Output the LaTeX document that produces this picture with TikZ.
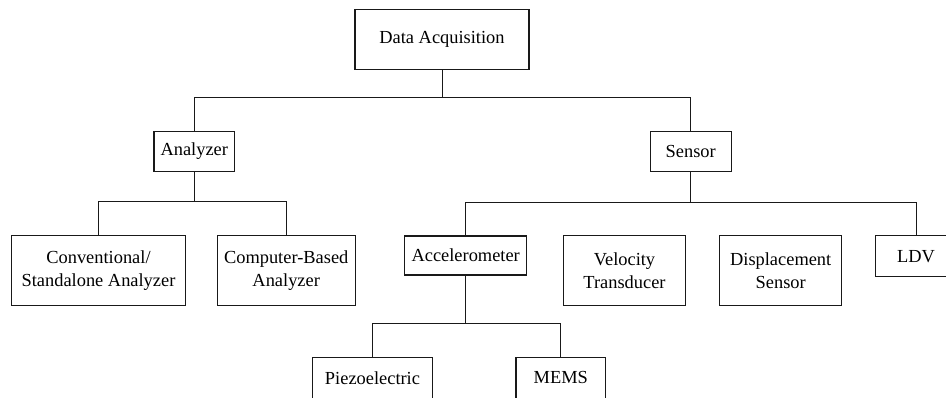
\documentclass[tikz,border=0pt]{standalone}
\usepackage{fontspec}
\setmainfont{Liberation Serif}
\usepackage{tikz}
\usetikzlibrary{calc}

\begin{document}
\begin{tikzpicture}[x=1pt,y=-1pt,
    box/.style={draw=black!90,line width=1.1pt,inner sep=0pt,align=center,
        font=\fontsize{18.4}{22.6}\selectfont},
    link/.style={draw=black!90,line width=1pt}]
\useasboundingbox (0,0) rectangle (946,398);
\clip (0,0) rectangle (946,398);

% Top level
\node[box,minimum width=174,minimum height=60] (daq) at (442,39.3) {Data Acquisition};

% Second level
\node[box,minimum width=80.7,minimum height=40.4] (ana) at (194.3,151.5) {Analyzer};
\node[box,minimum width=80.7,minimum height=40.4] (sen) at (690.7,151.5) {Sensor};

% Analyzer types
\node[box,minimum width=174.4,minimum height=69.7] (conv) at (98.5,270.8) {Conventional/\\Standalone Analyzer};
\node[box,minimum width=138.3,minimum height=69.7] (comp) at (286.2,270.8) {Computer-Based\\Analyzer};

% Sensor types
\node[box,minimum width=122,minimum height=39] (acc) at (465.7,255.5) {Accelerometer};
\node[box,minimum width=121.6,minimum height=69.7] (vel) at (624.5,270.8) {Velocity\\Transducer};
\node[box,minimum width=122,minimum height=69.7] (disp) at (780.7,270.8) {Displacement\\Sensor};
\node[box,minimum width=81,minimum height=41] (ldv) at (916,256.2) {LDV};

% Accelerometer types
\node[box,minimum width=120.4,minimum height=40.4] (piezo) at (372.5,377.9) {Piezoelectric};
\node[box,minimum width=89.7,minimum height=40.4] (mems) at (560.8,377.9) {MEMS};

% Branch points
\coordinate (jdaq) at ($(daq.south)+(0,28)$);
\coordinate (jana) at ($(ana.south)+(0,29)$);
\coordinate (jsen) at ($(sen.south)+(0,30)$);
\coordinate (jacc) at ($(acc.south)+(0,47.7)$);

% Connectors
\draw[link] (daq.south) -- (jdaq);
\draw[link] (ana.north) |- (jdaq) -| (sen.north);
\draw[link] (ana.south) -- (jana);
\draw[link] (conv.north) |- (jana) -| (comp.north);
\draw[link] (sen.south) -- (jsen);
\draw[link] (acc.north) |- (jsen) -| (ldv.north);
\draw[link] (acc.south) -- (jacc);
\draw[link] (piezo.north) |- (jacc) -| (mems.north);
\end{tikzpicture}
\end{document}
